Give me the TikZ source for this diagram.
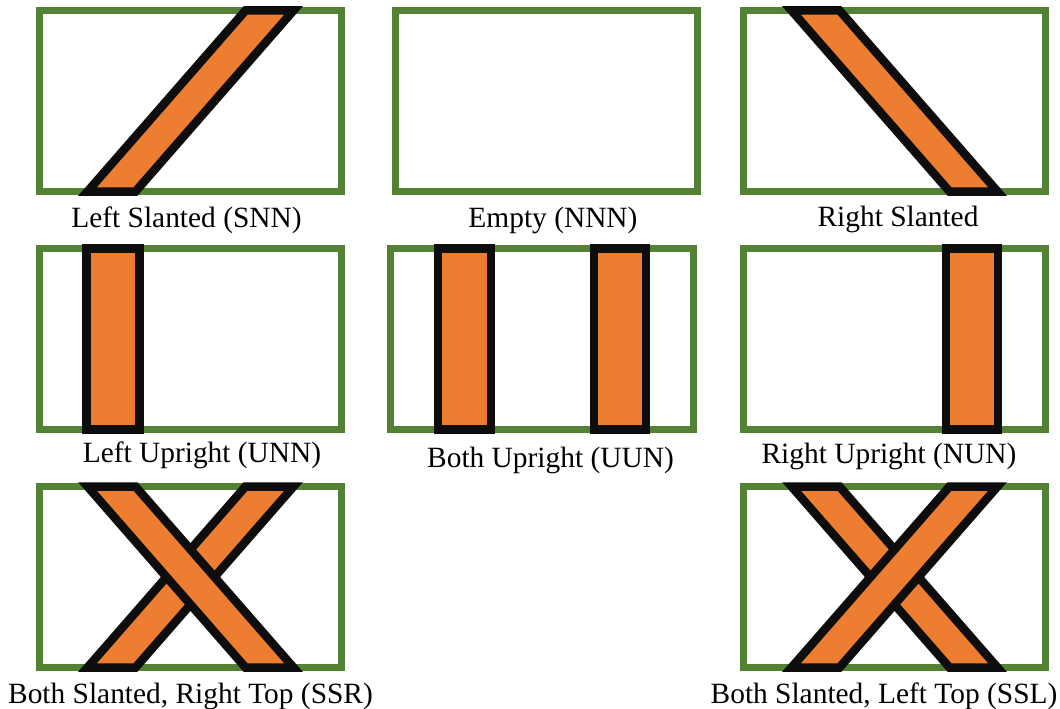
\documentclass[tikz,border=0pt]{standalone}
\usepackage{fontspec}
\setmainfont{Liberation Serif}
\definecolor{framegreen}{HTML}{548235}
\definecolor{barorange}{HTML}{ED7D31}
\definecolor{barblack}{HTML}{0D0D0D}
\begin{document}
\begin{tikzpicture}[x=1pt,y=-1pt,
  frame/.style={draw=framegreen,line width=7pt,fill=white},
  bar/.style={draw=barblack,line width=8.5pt,fill=barorange,miter limit=10},
  caption/.style={font=\fontsize{29.4}{34}\selectfont,anchor=base,inner sep=0pt}]
\useasboundingbox (0,0) rectangle (1060,709);
\fill[white] (0,0) rectangle (1060,709);

% Row 1: left slanted, empty, right slanted
\begin{scope}[shift={(39.5,10.5)}]
  \draw[frame] (0,0) rectangle (302,181);
  \draw[bar] (48,181) -- (96,181) -- (254,0) -- (206,0) -- cycle;
\end{scope}
\node[caption] (capSNN) at (186.5,227) {Left Slanted (SNN)};

\begin{scope}[shift={(395.5,10.5)}]
  \draw[frame] (0,0) rectangle (302,181);
\end{scope}
\node[caption] (capNNN) at (553,227) {Empty (NNN)};

\begin{scope}[shift={(743.5,10.5)}]
  \draw[frame] (0,0) rectangle (302,181);
  \draw[bar] (48,0) -- (96,0) -- (254,181) -- (206,181) -- cycle;
\end{scope}
\node[caption] (capRS) at (898,226) {Right Slanted};

% Row 2: upright bars
\begin{scope}[shift={(39.5,248.5)}]
  \draw[frame] (0,0) rectangle (302,181);
  \draw[bar] (47,0) rectangle (100,181);
\end{scope}
\node[caption] (capUNN) at (202,462) {Left Upright (UNN)};

\begin{scope}[shift={(390.5,248.5)}]
  \draw[frame] (0,0) rectangle (303,181);
  \draw[bar] (47.5,0) rectangle (100.5,181);
  \draw[bar] (203.5,0) rectangle (255.5,181);
\end{scope}
\node[caption] (capUUN) at (550.5,467) {Both Upright (UUN)};

\begin{scope}[shift={(743.5,248.5)}]
  \draw[frame] (0,0) rectangle (302,181);
  \draw[bar] (202.5,0) rectangle (254.5,181);
\end{scope}
\node[caption] (capNUN) at (889,463) {Right Upright (NUN)};

% Row 3: crossed bars, the later one drawn on top
\begin{scope}[shift={(39.5,486.5)}]
  \draw[frame] (0,0) rectangle (302,181);
  \draw[bar] (48,181) -- (96,181) -- (254,0) -- (206,0) -- cycle;
  \draw[bar] (48,0) -- (96,0) -- (254,181) -- (206,181) -- cycle;
\end{scope}
\node[caption] (capSSR) at (190.5,703) {Both Slanted, Right Top (SSR)};

\begin{scope}[shift={(743.5,486.5)}]
  \draw[frame] (0,0) rectangle (302,181);
  \draw[bar] (48,0) -- (96,0) -- (254,181) -- (206,181) -- cycle;
  \draw[bar] (48,181) -- (96,181) -- (254,0) -- (206,0) -- cycle;
\end{scope}
\node[caption] (capSSL) at (884,703) {Both Slanted, Left Top (SSL)};
\end{tikzpicture}
\end{document}
